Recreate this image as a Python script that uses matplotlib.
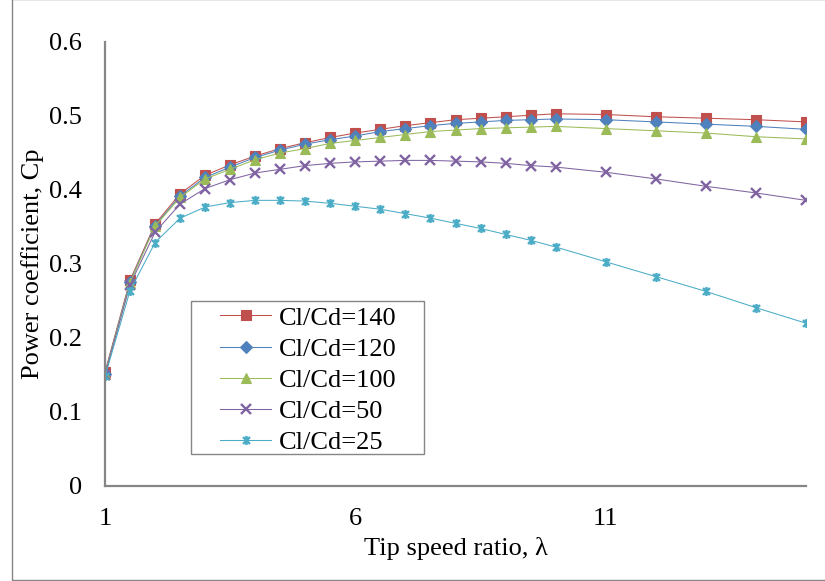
import matplotlib
matplotlib.use("Agg")
import matplotlib.pyplot as plt
from matplotlib.path import Path
from matplotlib.patches import Rectangle
from matplotlib.ticker import FuncFormatter

plt.rcParams['font.family'] = ['Liberation Serif', 'DejaVu Serif']

tsr = [1, 1.5, 2, 2.5, 3, 3.5, 4, 4.5, 5, 5.5, 6, 6.5, 7, 7.5, 8, 8.5, 9, 9.5, 10,
       11, 12, 13, 14, 15]
cp140 = [0.154, 0.278, 0.354, 0.395, 0.420, 0.434, 0.446, 0.456, 0.464, 0.471, 0.477, 0.482,
         0.487, 0.491, 0.495, 0.497, 0.499, 0.501, 0.503, 0.502, 0.499, 0.497, 0.495, 0.492]
cp120 = [0.152, 0.276, 0.352, 0.392, 0.417, 0.431, 0.444, 0.454, 0.462, 0.468, 0.473, 0.479,
         0.483, 0.487, 0.490, 0.492, 0.494, 0.495, 0.496, 0.495, 0.492, 0.489, 0.486, 0.482]
cp100 = [0.151, 0.275, 0.351, 0.390, 0.415, 0.428, 0.441, 0.450, 0.456, 0.463, 0.467, 0.471,
         0.475, 0.479, 0.481, 0.483, 0.484, 0.485, 0.486, 0.483, 0.480, 0.477, 0.472, 0.469]
cp50 = [0.150, 0.272, 0.343, 0.381, 0.402, 0.414, 0.423, 0.428, 0.433, 0.436, 0.438, 0.439,
        0.440, 0.440, 0.439, 0.438, 0.436, 0.433, 0.431, 0.424, 0.415, 0.405, 0.396, 0.386]
cp25 = [0.148, 0.264, 0.329, 0.362, 0.377, 0.383, 0.386, 0.386, 0.385, 0.382, 0.378, 0.374,
        0.368, 0.362, 0.355, 0.348, 0.340, 0.332, 0.323, 0.303, 0.283, 0.263, 0.241, 0.220]
labels = ['Cl/Cd=140', 'Cl/Cd=120', 'Cl/Cd=100', 'Cl/Cd=50', 'Cl/Cd=25']
xticks = [1, 6, 11]
yticks = [0, 0.1, 0.2, 0.3, 0.4, 0.5, 0.6]

star = Path([(-1, -1), (1, 1), (-1, 1), (1, -1), (0, -1.3), (0, 1.3)],
            [Path.MOVETO, Path.LINETO, Path.MOVETO, Path.LINETO, Path.MOVETO, Path.LINETO])

series = [cp140, cp120, cp100, cp50, cp25]
colors = ['#C0504D', '#4F81BD', '#9BBB59', '#8064A2', '#4BACC6']
markers = ['s', 'D', '^', 'x', star]
msizes = [7.2, 6.2, 7.8, 6.8, 6.5]

fig = plt.figure(figsize=(8.25, 5.81), dpi=100)
ax = fig.add_axes([105/825, 95/581, 701/825, 444/581])

for ys, c, m, ms, lab in zip(series, colors, markers, msizes, labels):
    stroke = (m == 'x') or (m is star)
    ax.plot(tsr, ys, color=c, lw=0.75, marker=m, markersize=ms,
            markerfacecolor=c, markeredgecolor=c,
            markeredgewidth=1.7 if stroke else 0.8, label=lab)

ax.set_xlim(1, 15)
ax.set_ylim(0, 0.6)
ax.set_xticks(xticks)
ax.set_yticks(yticks)
ax.yaxis.set_major_formatter(FuncFormatter(lambda v, p: '0' if abs(v) < 1e-9 else f'{v:.1f}'))
ax.tick_params(length=0, labelsize=19, colors='black')
ax.tick_params(axis='x', pad=16)
ax.tick_params(axis='y', pad=16.5)
for s in ['top', 'right']:
    ax.spines[s].set_visible(False)
for s in ['left', 'bottom']:
    ax.spines[s].set_color('#868686')
    ax.spines[s].set_linewidth(1.6)

ax.set_xlabel('Tip speed ratio, λ', fontsize=19, va='center')
ax.xaxis.set_label_coords(0.5, (486 - 548) / 444)
ax.set_ylabel('Power coefficient, Cp', fontsize=19, va='center')
ax.yaxis.set_label_coords((33 - 105) / 701, 0.5)

# legend frame
ax.add_patch(Rectangle((0.1223, 0.0721), 0.3328, 0.3453, transform=ax.transAxes,
                       facecolor='white', edgecolor='#868686', linewidth=1.0, zorder=4))
leg = ax.legend(loc='upper left', bbox_to_anchor=(0.164, 0.405), borderaxespad=0,
                fontsize=19, frameon=False, handlelength=1.95,
                handletextpad=0.3, labelspacing=0.29, borderpad=0)
leg.set_zorder(5)

fig.patches.append(Rectangle((12/825, 1/581), 1.0, 1.0, transform=fig.transFigure,
                             fill=False, edgecolor='#868686', linewidth=1.0))

fig.savefig('out.png', dpi=100)
